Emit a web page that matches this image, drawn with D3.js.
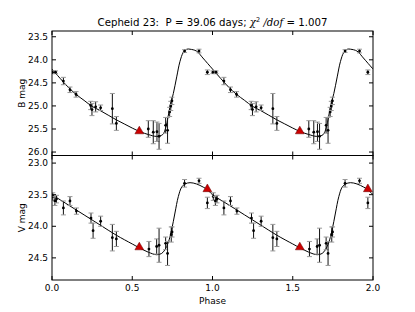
<!DOCTYPE html>
<html>
<head>
<meta charset="utf-8">
<script src="https://cdn.jsdelivr.net/npm/d3@7"></script>
<style>
  body { margin: 0; background: #fff; }
  text { font-family: "DejaVu Sans", sans-serif; fill: #000; }
</style>
</head>
<body>
<div id="chart"></div>
<script>
// B band observations: phase, mag, error
var phaseB = [0.003, 0.022, 0.071, 0.112, 0.150, 0.241, 0.249, 0.272, 0.303, 0.376, 0.401,
              0.600, 0.631, 0.654, 0.667, 0.708, 0.720, 0.733, 0.740, 0.747, 0.826, 0.916, 0.968];
var magB   = [24.27, 24.27, 24.46, 24.65, 24.75, 24.99, 25.08, 25.02, 25.04, 25.06, 25.38,
              25.50, 25.57, 25.56, 25.66, 25.42, 25.53, 25.13, 25.00, 24.89, 23.81, 23.81, 24.27];
var errB   = [0.03, 0.03, 0.08, 0.06, 0.06, 0.09, 0.13, 0.11, 0.06, 0.33, 0.15,
              0.18, 0.25, 0.21, 0.28, 0.17, 0.28, 0.10, 0.10, 0.08, 0.03, 0.04, 0.05];

// V band observations
var phaseV = [0.005, 0.018, 0.028, 0.071, 0.112, 0.152, 0.243, 0.256, 0.303, 0.376, 0.401,
              0.604, 0.652, 0.667, 0.708, 0.720, 0.743, 0.748, 0.826, 0.916, 0.968];
var magV   = [23.53, 23.60, 23.57, 23.71, 23.60, 23.76, 23.87, 24.07, 23.92, 24.18, 24.20,
              24.36, 24.32, 24.30, 24.27, 24.43, 24.13, 24.09, 23.32, 23.28, 23.63];
var errV   = [0.06, 0.07, 0.06, 0.11, 0.07, 0.05, 0.08, 0.12, 0.08, 0.21, 0.12,
              0.12, 0.12, 0.27, 0.10, 0.19, 0.12, 0.08, 0.06, 0.04, 0.09];

// red triangles
var triPhaseB = [0.544];
var triMagB   = [25.56];
var triPhaseV = [0.544, 0.968];
var triMagV   = [24.34, 23.42];

// template light curves
var curvePhaseB = [0, 0.05, 0.1, 0.15, 0.2, 0.25, 0.3, 0.35, 0.4, 0.45, 0.5, 0.55, 0.6, 0.65,
                   0.69, 0.71, 0.735, 0.756, 0.777, 0.797, 0.818, 0.84, 0.86, 0.9, 0.94, 0.97, 1.0];
var curveMagB   = [24.2, 24.4, 24.59, 24.75, 24.88, 25.01, 25.1, 25.2, 25.3, 25.39, 25.48, 25.56, 25.62, 25.66,
                   25.62, 25.45, 25.02, 24.73, 24.37, 24.04, 23.84, 23.77, 23.77, 23.81, 23.96, 24.08, 24.2];
var curvePhaseV = [0, 0.1, 0.2, 0.3, 0.4, 0.5, 0.544, 0.6, 0.652, 0.683, 0.704, 0.724, 0.745,
                   0.766, 0.787, 0.808, 0.829, 0.86, 0.9, 0.942, 0.968, 1.0];
var curveMagV   = [23.5, 23.66, 23.82, 23.98, 24.14, 24.28, 24.34, 24.41, 24.45, 24.43, 24.37, 24.26, 24.06,
                   23.79, 23.53, 23.38, 23.33, 23.31, 23.33, 23.38, 23.42, 23.5];

var xTicks  = [0, 0.5, 1.0, 1.5, 2.0];
var yTicksB = [23.5, 24.0, 24.5, 25.0, 25.5, 26.0];
var yTicksV = [23.0, 23.5, 24.0, 24.5];

var W = 415, H = 312;
var left = 52, right = 373;
var svg = d3.select('#chart').append('svg').attr('width', W).attr('height', H);

var x = d3.scaleLinear().domain([0, 2]).range([left, right]);

// fold twice: phase and phase + 1
function twice(ph, a, b) {
    var out = [];
    [0, 1].forEach(function (k) {
        ph.forEach(function (p, i) { out.push({p: p + k, m: a[i], e: b ? b[i] : 0}); });
    });
    return out;
}
function twiceCurve(ph, m) {
    var out = [];
    ph.forEach(function (p, i) { out.push({p: p, m: m[i]}); });
    ph.forEach(function (p, i) { if (i > 0) out.push({p: p + 1, m: m[i]}); });
    return out;
}

function panel(top, bottom, domain, ticks, label, pts, tris, curve, showX) {
    var y = d3.scaleLinear().domain(domain).range([top, bottom]);
    var g = svg.append('g');

    var clipId = 'clip' + label.charAt(0);
    svg.append('clipPath').attr('id', clipId).append('rect')
        .attr('x', left).attr('y', top).attr('width', right - left).attr('height', bottom - top);
    var inner = g.append('g').attr('clip-path', 'url(#' + clipId + ')');

    var line = d3.line().x(function (d) { return x(d.p); }).y(function (d) { return y(d.m); })
        .curve(d3.curveCatmullRom.alpha(0.5));
    inner.append('path').datum(curve).attr('d', line)
        .attr('fill', 'none').attr('stroke', '#000').attr('stroke-width', 1);

    var eb = inner.selectAll('g.eb').data(pts).enter().append('g');
    eb.append('line')
        .attr('x1', function (d) { return x(d.p); }).attr('x2', function (d) { return x(d.p); })
        .attr('y1', function (d) { return y(d.m - d.e); }).attr('y2', function (d) { return y(d.m + d.e); })
        .attr('stroke', '#111').attr('stroke-width', 1);
    [-1, 1].forEach(function (s) {
        eb.append('line')
            .attr('x1', function (d) { return x(d.p) - 2.5; }).attr('x2', function (d) { return x(d.p) + 2.5; })
            .attr('y1', function (d) { return y(d.m + s * d.e); }).attr('y2', function (d) { return y(d.m + s * d.e); })
            .attr('stroke', '#999').attr('stroke-width', 1);
    });
    eb.append('circle').attr('cx', function (d) { return x(d.p); }).attr('cy', function (d) { return y(d.m); })
        .attr('r', 1.4).attr('fill', '#000');

    var tri = d3.symbol().type(d3.symbolTriangle).size(34);
    inner.selectAll('path.tri').data(tris).enter().append('path')
        .attr('d', tri)
        .attr('transform', function (d) { return 'translate(' + x(d.p) + ',' + (y(d.m) - 0.5) + ')'; })
        .attr('fill', '#cc0000').attr('stroke', '#600').attr('stroke-width', 0.5);

    // frame
    g.append('rect').attr('x', left).attr('y', top).attr('width', right - left).attr('height', bottom - top)
        .attr('fill', 'none').attr('stroke', '#000').attr('stroke-width', 1);

    // ticks inside on all sides
    var tl = 4;
    ticks.forEach(function (t) {
        g.append('line').attr('x1', left).attr('x2', left + tl).attr('y1', y(t)).attr('y2', y(t)).attr('stroke', '#000');
        g.append('line').attr('x1', right).attr('x2', right - tl).attr('y1', y(t)).attr('y2', y(t)).attr('stroke', '#000');
        g.append('text').attr('x', left - 4).attr('y', y(t)).attr('dy', '0.35em')
            .attr('text-anchor', 'end').attr('font-size', 9).text(d3.format('.1f')(t));
    });
    xTicks.forEach(function (t) {
        g.append('line').attr('x1', x(t)).attr('x2', x(t)).attr('y1', top).attr('y2', top + tl).attr('stroke', '#000');
        g.append('line').attr('x1', x(t)).attr('x2', x(t)).attr('y1', bottom).attr('y2', bottom - tl).attr('stroke', '#000');
        if (showX) {
            g.append('text').attr('x', x(t)).attr('y', bottom + 11)
                .attr('text-anchor', 'middle').attr('font-size', 9).text(d3.format('.1f')(t));
        }
    });

    g.append('text').attr('transform', 'translate(25,' + ((top + bottom) / 2) + ') rotate(-90)')
        .attr('text-anchor', 'middle').attr('font-size', 9).text(label);
}

var ptsB = twice(phaseB, magB, errB), ptsV = twice(phaseV, magV, errV);
var trisB = twice(triPhaseB, triMagB), trisV = twice(triPhaseV, triMagV);

panel(31, 155.5, [23.375, 26.075], yTicksB, 'B mag', ptsB, trisB, twiceCurve(curvePhaseB, curveMagB), false);
panel(155.5, 280, [22.88, 24.85], yTicksV, 'V mag', ptsV, trisV, twiceCurve(curvePhaseV, curveMagV), true);

svg.append('text').attr('x', (left + right) / 2).attr('y', 304).attr('text-anchor', 'middle')
    .attr('font-size', 9).text('Phase');

// title with mathtext-like part
var title = svg.append('text').attr('x', (left + right) / 2).attr('y', 26)
    .attr('text-anchor', 'middle').attr('font-size', 10.2).style('white-space', 'pre');
title.append('tspan').text('Cepheid 23:  P = 39.06 days; ');
title.append('tspan').attr('font-family', 'DejaVu Serif').attr('font-style', 'italic').text('\u03c7');
title.append('tspan').attr('font-size', 6.5).attr('dy', -4).text('2');
title.append('tspan').attr('dy', 4).attr('font-family', 'DejaVu Serif').attr('font-style', 'italic').text(' /dof');
title.append('tspan').attr('font-family', 'DejaVu Serif').text(' = ');
title.append('tspan').text('1.007');
</script>
</body>
</html>
